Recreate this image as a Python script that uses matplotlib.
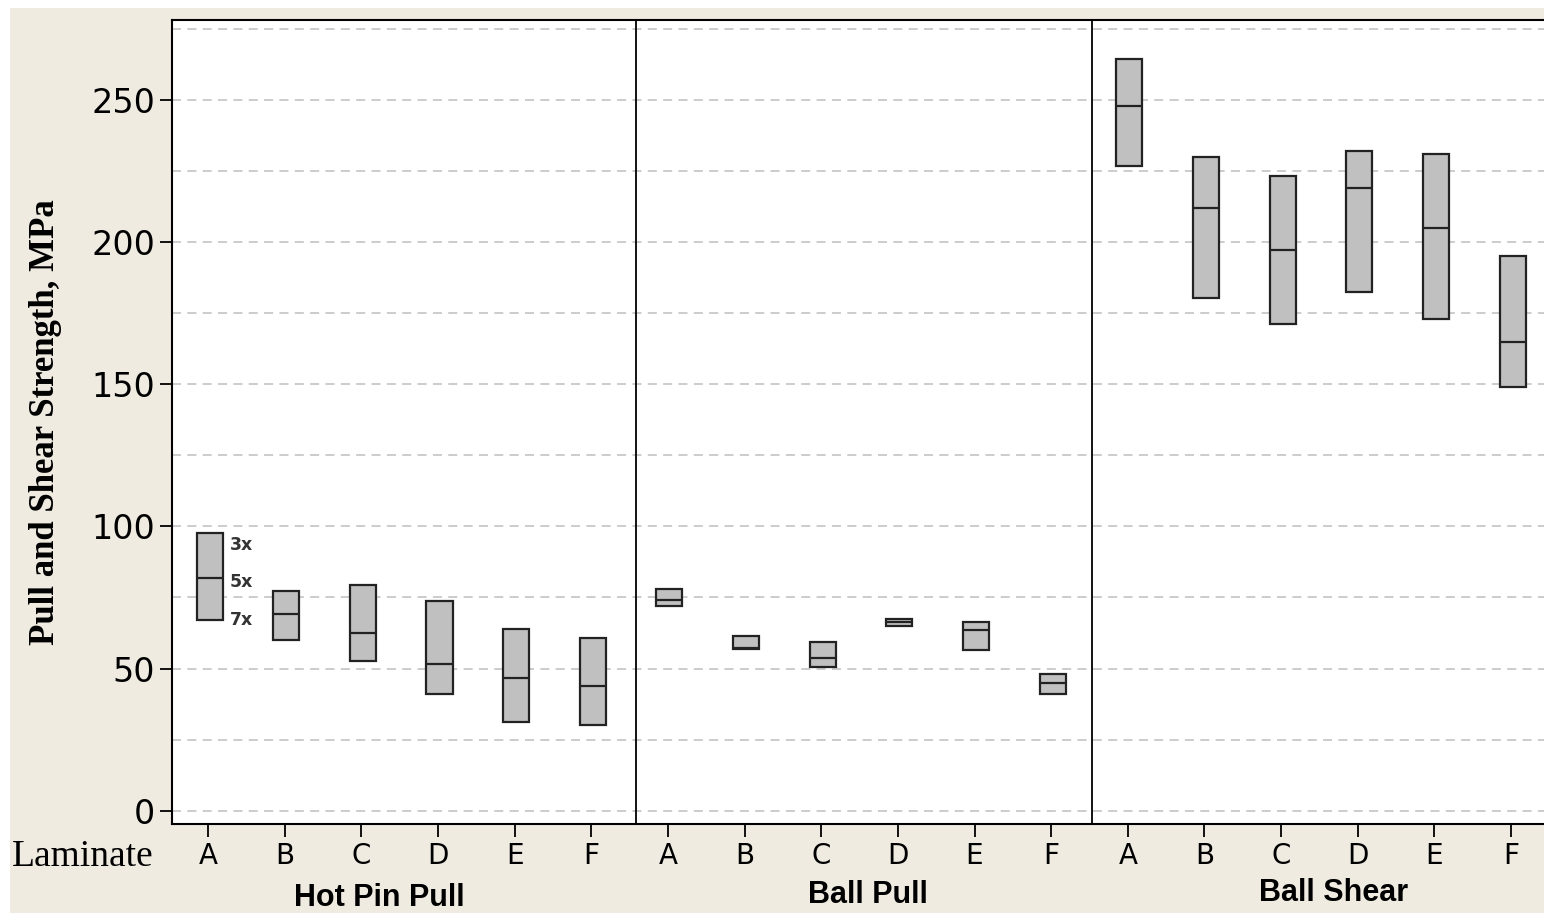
import matplotlib
matplotlib.use('Agg')

import matplotlib.pyplot as plt
from matplotlib.patches import Rectangle
from matplotlib.transforms import blended_transform_factory

######   Data

laminates = ["A", "B", "C", "D", "E", "F"]
tests = ["Hot Pin Pull", "Ball Pull", "Ball Shear"]

hot_pin_low  = [67.1, 59.9, 52.7, 41.0, 31.1, 30.1]
hot_pin_mid  = [81.9, 69.1, 62.4, 51.7, 46.6, 44.0]
hot_pin_high = [97.8, 77.4, 79.3, 73.8, 63.9, 60.9]

ball_pull_low  = [72.1, 56.9, 50.7, 65.1, 56.4, 40.9]
ball_pull_mid  = [74.2, 57.3, 53.8, 66.3, 63.4, 45.0]
ball_pull_high = [77.9, 61.4, 59.4, 67.5, 66.5, 48.1]

ball_shear_low  = [226.9, 180.2, 171.1, 182.4, 173.1, 149.0]
ball_shear_mid  = [247.9, 212.0, 197.2, 219.1, 204.8, 164.9]
ball_shear_high = [264.3, 229.9, 223.3, 231.9, 230.9, 195.0]

cycle_labels = ["3x", "5x", "7x"]
cycle_label_y = [93.5, 80.5, 67.0]

############

W, H = 1544, 915
bg = "#efebe1"
box_fill = "#c0c0c0"
edge = "#222222"

fig = plt.figure(figsize=(W / 100, H / 100), dpi=100, facecolor="white")
fig.patches.append(Rectangle((10 / W, 2 / H), 1 - 10 / W, 1 - 10 / H,
                             transform=fig.transFigure, facecolor=bg,
                             edgecolor="none", zorder=-10))

ax = fig.add_axes([172 / W, (H - 824) / H, 1 - 172 / W, (824 - 20) / H])
ax.set_facecolor("white")

lows = hot_pin_low + ball_pull_low + ball_shear_low
mids = hot_pin_mid + ball_pull_mid + ball_shear_mid
highs = hot_pin_high + ball_pull_high + ball_shear_high
xs = list(range(len(lows)))

ax.bar([x + 0.02 for x in xs], [h - l for h, l in zip(highs, lows)], bottom=lows,
       width=0.34, color=box_fill, edgecolor=edge, linewidth=1.6, zorder=3)
ax.hlines(mids, [x - 0.15 for x in xs], [x + 0.19 for x in xs],
          colors=edge, linewidth=1.6, zorder=4)

# gridlines every 25
for g in range(0, 300, 25):
    ax.axhline(g, color="#c8c8c8", linewidth=1.3, dashes=(5, 3.5), zorder=1)

# panel separators
for s in [5.584, 11.533]:
    ax.axvline(s, color="black", linewidth=1.3, zorder=5)

ax.set_xlim(-0.47, 17.43)
ax.set_ylim(-4.68, 278.1)

ax.set_yticks(range(0, 251, 50))
ax.set_yticklabels([str(v) for v in range(0, 251, 50)], fontsize=24,
                   family="DejaVu Sans")
ax.set_xticks(xs)
ax.set_xticklabels(laminates * 3, fontsize=20, family="DejaVu Sans")
ax.tick_params(axis="both", direction="out", length=9, width=1.3, colors="black")
ax.tick_params(axis="x", pad=4)
ax.tick_params(axis="y", pad=3)

ax.spines["right"].set_visible(False)
for sp in ["left", "top", "bottom"]:
    ax.spines[sp].set_linewidth(1.5)

# cycle annotations beside the first box
for lab, y in zip(cycle_labels, cycle_label_y):
    ax.text(0.28, y, lab, fontsize=12.5, fontweight="bold", color="#333333",
            ha="left", va="center", family="DejaVu Sans", zorder=6)

# panel names under the tick labels
trans = blended_transform_factory(ax.transData, fig.transFigure)
for name, xc, yy in zip(tests, [2.24, 8.61, 14.68], [898, 895, 893]):
    ax.text(xc, 1 - yy / H, name, transform=trans, fontsize=22,
            fontweight="bold", family="Liberation Sans", ha="center", va="center")

fig.text(12 / W, 1 - 857 / H, "Laminate", fontsize=27, family="Liberation Serif",
         ha="left", va="center")
fig.text(46 / W, 1 - 422 / H, "Pull and Shear Strength, MPa", fontsize=25,
         fontweight="bold", family="Liberation Serif", rotation=90,
         ha="center", va="center")

fig.savefig("out.png", dpi=100, facecolor=fig.get_facecolor())
